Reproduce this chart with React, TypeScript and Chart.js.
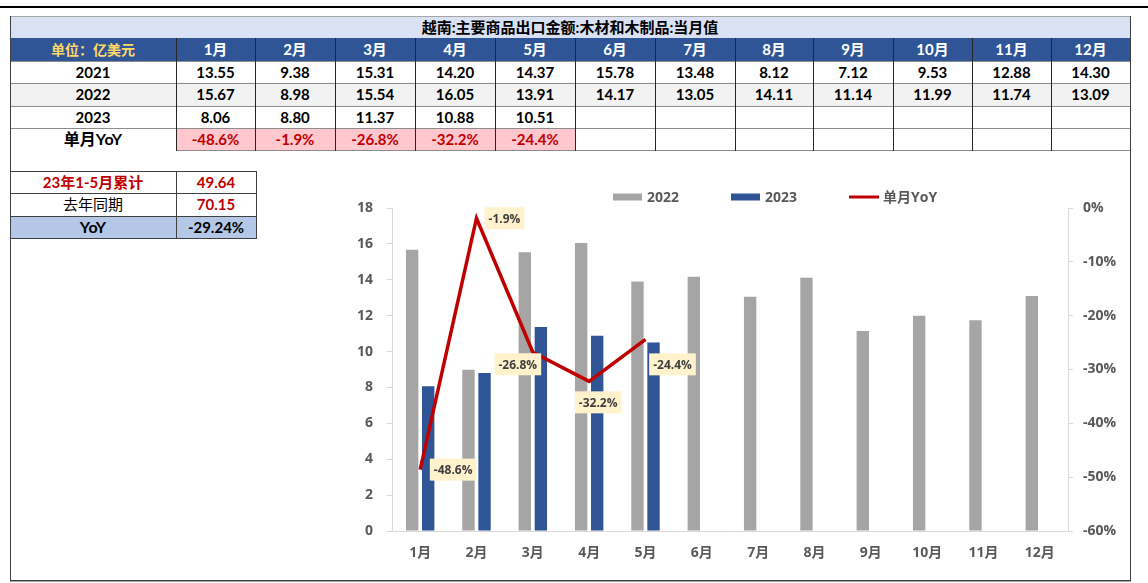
import React, { useEffect, useRef } from "react";
import { Chart, registerables } from "chart.js";

Chart.register(...registerables);

// ---------- data ----------
const title = "越南:主要商品出口金额:木材和木制品:当月值";
const unitLabel = "单位：亿美元";
const months = ["1月", "2月", "3月", "4月", "5月", "6月", "7月", "8月", "9月", "10月", "11月", "12月"];
const rowYears = ["2021", "2022", "2023"];
const v2021 = [13.55, 9.38, 15.31, 14.2, 14.37, 15.78, 13.48, 8.12, 7.12, 9.53, 12.88, 14.3];
const v2022 = [15.67, 8.98, 15.54, 16.05, 13.91, 14.17, 13.05, 14.11, 11.14, 11.99, 11.74, 13.09];
const v2023 = [8.06, 8.8, 11.37, 10.88, 10.51, null, null, null, null, null, null, null];
const yoyLabel = "单月YoY";
const yoy = [-48.6, -1.9, -26.8, -32.2, -24.4, null, null, null, null, null, null, null];
const summaryLabels = ["23年1-5月累计", "去年同期", "YoY"];
const summaryValues = ["49.64", "70.15", "-29.24%"];
const seriesNames = ["2022", "2023", "单月YoY"];
const leftAxis = { min: 0, max: 18, step: 2 };
const rightAxis = { min: -60, max: 0, step: 10 };

// ---------- layout / style ----------
const colEdges = [10, 176, 255, 335, 415, 495, 575, 655, 735, 813, 893, 972, 1051, 1130];
const rowEdges = [16, 38, 61, 83, 106, 128, 150];
const sumRows = [171, 193, 216, 238];
const sumCols = [10, 176, 256];
const labelOffsets = [
  [33, 0],
  [28, 0],
  [-15, 12],
  [9, 21],
  [27, 25],
];
const FONT_T = "Lato, 'Noto Sans CJK SC', sans-serif";
const FONT_C = "'Open Sans', 'Noto Sans CJK SC', sans-serif";
const GRAY = "#A5A5A5";
const BLUE = "#2F5597";
const RED = "#C00000";
const TXT = "#595959";

function Cell(props: { x0: number; x1: number; y0: number; y1: number; text?: string; style?: any }) {
  const { x0, x1, y0, y1, text, style } = props;
  return (
    <div
      style={{
        position: "absolute",
        left: x0,
        top: y0,
        width: x1 - x0,
        height: y1 - y0,
        display: "flex",
        alignItems: "center",
        justifyContent: "center",
        fontFamily: FONT_T,
        fontWeight: 700,
        fontSize: 15,
        color: "#000",
        lineHeight: 1,
        whiteSpace: "nowrap",
        ...(style || {}),
      }}
    >
      {text}
    </div>
  );
}

function HLine(props: { x0: number; x1: number; y: number; color: string; w?: number }) {
  return (
    <div
      style={{
        position: "absolute",
        left: props.x0,
        top: props.y,
        width: props.x1 - props.x0 + 1,
        height: props.w || 1,
        background: props.color,
      }}
    />
  );
}
function VLine(props: { x: number; y0: number; y1: number; color: string; w?: number }) {
  return (
    <div
      style={{
        position: "absolute",
        left: props.x,
        top: props.y0,
        width: props.w || 1,
        height: props.y1 - props.y0 + 1,
        background: props.color,
      }}
    />
  );
}

const fmt2 = (v: number | null) => (v == null ? "" : v.toFixed(2));

function ChartBox() {
  const ref = useRef<HTMLCanvasElement | null>(null);
  useEffect(() => {
    if (!ref.current) return;
    const legendPlugin = {
      id: "customLegend",
      afterDraw(chart: any) {
        const ctx = chart.ctx;
        const ca = chart.chartArea;
        ctx.save();
        ctx.font = `bold 14px ${FONT_C}`;
        ctx.textBaseline = "middle";
        ctx.textAlign = "left";
        let x = ca.left + 221;
        const y = 17;
        chart.data.datasets.forEach((ds: any) => {
          if (ds.type === "line") {
            ctx.strokeStyle = ds.borderColor;
            ctx.lineWidth = 3;
            ctx.beginPath();
            ctx.moveTo(x, y);
            ctx.lineTo(x + 30, y);
            ctx.stroke();
          } else {
            ctx.fillStyle = ds.backgroundColor;
            ctx.fillRect(x, y - 3.5, 29, 7);
          }
          x += 34;
          ctx.fillStyle = TXT;
          ctx.fillText(ds.label, x, y + 1);
          x += ctx.measureText(ds.label).width + 52;
        });
        ctx.restore();
      },
    };
    const labelPlugin = {
      id: "yoyLabels",
      afterDatasetsDraw(chart: any) {
        const ctx = chart.ctx;
        const idx = chart.data.datasets.findIndex((d: any) => d.type === "line");
        const meta = chart.getDatasetMeta(idx);
        const data = chart.data.datasets[idx].data;
        ctx.save();
        ctx.font = `bold 12px ${FONT_C}`;
        ctx.textAlign = "center";
        ctx.textBaseline = "middle";
        meta.data.forEach((pt: any, i: number) => {
          const v = data[i];
          if (v == null) return;
          const txt = v.toFixed(1) + "%";
          const off = labelOffsets[i] || [30, 0];
          const cx = pt.x + off[0];
          const cy = pt.y + off[1];
          const w = ctx.measureText(txt).width + 8;
          const h = 22;
          ctx.fillStyle = "#FFF2CC";
          ctx.fillRect(cx - w / 2, cy - h / 2, w, h);
          ctx.fillStyle = "#404040";
          ctx.fillText(txt, cx, cy + 1);
        });
        ctx.restore();
      },
    };
    const tickFont = { family: FONT_C, size: 14, weight: "bold" as const };
    const chart = new Chart(ref.current, {
      type: "bar",
      data: {
        labels: months,
        datasets: [
          {
            type: "bar",
            label: seriesNames[0],
            data: v2022,
            backgroundColor: GRAY,
            borderWidth: 0,
            categoryPercentage: 0.57,
            barPercentage: 0.77,
            yAxisID: "y",
            order: 1,
          } as any,
          {
            type: "bar",
            label: seriesNames[1],
            data: v2023,
            backgroundColor: BLUE,
            borderWidth: 0,
            categoryPercentage: 0.57,
            barPercentage: 0.77,
            yAxisID: "y",
            order: 1,
          } as any,
          {
            type: "line",
            label: seriesNames[2],
            data: yoy,
            borderColor: RED,
            backgroundColor: RED,
            borderWidth: 3.5,
            pointRadius: 0,
            tension: 0,
            yAxisID: "y2",
            order: 0,
            spanGaps: false,
          } as any,
        ],
      },
      options: {
        responsive: false,
        animation: false,
        devicePixelRatio: 1,
        layout: { padding: { top: 28, left: 0, right: 0, bottom: 0 } },
        plugins: { legend: { display: false }, tooltip: { enabled: false } },
        scales: {
          x: {
            grid: { display: false, drawTicks: false },
            border: { display: true, color: "#D9D9D9", width: 1 },
            ticks: { font: tickFont, color: TXT, padding: 14, maxRotation: 0 },
            afterFit: (s: any) => {
              s.height = 44;
            },
          },
          y: {
            position: "left",
            min: leftAxis.min,
            max: leftAxis.max,
            ticks: { stepSize: leftAxis.step, font: tickFont, color: TXT, padding: 14 },
            grid: { display: true, drawOnChartArea: false, drawTicks: true, tickLength: 5, color: "#D9D9D9" },
            border: { display: true, color: "#D9D9D9", width: 1 },
            afterFit: (s: any) => {
              s.width = 52;
            },
          },
          y2: {
            position: "right",
            min: rightAxis.min,
            max: rightAxis.max,
            ticks: {
              stepSize: rightAxis.step,
              font: tickFont,
              color: TXT,
              padding: 10,
              callback: (v: any) => `${v}%`,
            },
            grid: { display: true, drawOnChartArea: false, drawTicks: true, tickLength: 5, color: "#D9D9D9" },
            border: { display: true, color: "#D9D9D9", width: 1 },
            afterFit: (s: any) => {
              s.width = 60;
            },
          },
        },
      },
      plugins: [legendPlugin, labelPlugin],
    } as any);
    return () => chart.destroy();
  }, []);
  return (
    <canvas
      ref={ref}
      width={788}
      height={395}
      style={{ position: "absolute", left: 340, top: 180, width: 788, height: 395 }}
    />
  );
}

export default function App() {
  const cells: any[] = [];
  const lines: any[] = [];
  const L = colEdges[0];
  const R = colEdges[colEdges.length - 1];

  // title row
  cells.push(
    <Cell key="title" x0={L} x1={R} y0={rowEdges[0]} y1={rowEdges[1]} text={title} style={{ background: "#D9E1F2", fontSize: 15 }} />
  );
  // header row
  cells.push(
    <Cell key="unit" x0={colEdges[0]} x1={colEdges[1]} y0={rowEdges[1]} y1={rowEdges[2]} text={unitLabel} style={{ background: BLUE, color: "#FFD966", fontSize: 14 }} />
  );
  months.forEach((m, i) => {
    cells.push(
      <Cell key={"h" + i} x0={colEdges[i + 1]} x1={colEdges[i + 2]} y0={rowEdges[1]} y1={rowEdges[2]} text={m} style={{ background: BLUE, color: "#fff" }} />
    );
  });
  // data rows
  const rows = [v2021, v2022, v2023];
  rows.forEach((vals, r) => {
    const bg = r === 1 ? "#F2F2F2" : "#fff";
    cells.push(
      <Cell key={"y" + r} x0={colEdges[0]} x1={colEdges[1]} y0={rowEdges[2 + r]} y1={rowEdges[3 + r]} text={rowYears[r]} style={{ background: bg }} />
    );
    vals.forEach((v, i) => {
      cells.push(
        <Cell key={"d" + r + "-" + i} x0={colEdges[i + 1]} x1={colEdges[i + 2]} y0={rowEdges[2 + r]} y1={rowEdges[3 + r]} text={fmt2(v)} style={{ background: bg }} />
      );
    });
  });
  // yoy row
  cells.push(
    <Cell key="yl" x0={colEdges[0]} x1={colEdges[1]} y0={rowEdges[5]} y1={rowEdges[6]} text={yoyLabel} style={{ fontSize: 16 }} />
  );
  yoy.forEach((v, i) => {
    cells.push(
      <Cell
        key={"yy" + i}
        x0={colEdges[i + 1]}
        x1={colEdges[i + 2]}
        y0={rowEdges[5]}
        y1={rowEdges[6]}
        text={v == null ? "" : v.toFixed(1) + "%"}
        style={v == null ? {} : { background: "#FFC7CE", color: RED }}
      />
    );
  });

  // summary table
  summaryLabels.forEach((lab, r) => {
    const last = r === summaryLabels.length - 1;
    const bg = last ? "#B4C7E7" : "#fff";
    const labStyle: any = { background: bg };
    if (r === 0) labStyle.color = RED;
    if (r === 1) labStyle.fontWeight = 400;
    if (last) labStyle.fontSize = 16;
    cells.push(
      <Cell key={"sl" + r} x0={sumCols[0]} x1={sumCols[1]} y0={sumRows[r]} y1={sumRows[r + 1]} text={lab} style={labStyle} />
    );
    cells.push(
      <Cell key={"sv" + r} x0={sumCols[1]} x1={sumCols[2]} y0={sumRows[r]} y1={sumRows[r + 1]} text={summaryValues[r]} style={{ background: bg, color: last ? "#000" : RED }} />
    );
  });

  // lines main table
  lines.push(<HLine key="tt" x0={L} x1={R} y={rowEdges[0]} color="#A6A6A6" />);
  for (let r = 2; r <= 6; r++) {
    lines.push(<HLine key={"hr" + r} x0={r === 6 ? colEdges[1] : L} x1={R} y={rowEdges[r]} color="#8C8C8C" />);
  }
  for (let c = 1; c < colEdges.length - 1; c++) {
    lines.push(<VLine key={"vc" + c} x={colEdges[c]} y0={rowEdges[1]} y1={rowEdges[6]} color="#262626" />);
  }
  // summary lines
  sumRows.forEach((y, i) => lines.push(<HLine key={"sh" + i} x0={sumCols[0]} x1={sumCols[2]} y={y} color="#404040" />));
  sumCols.slice(1).forEach((x, i) => lines.push(<VLine key={"sv" + i} x={x} y0={sumRows[0]} y1={sumRows[3]} color="#404040" />));
  // frame
  lines.push(<VLine key="fl" x={L} y0={rowEdges[0]} y1={581} color="#404040" />);
  lines.push(<VLine key="fr" x={R} y0={rowEdges[0]} y1={581} color="#404040" />);
  lines.push(<HLine key="fb" x0={L} x1={R} y={580} color="#404040" />);
  lines.push(<HLine key="fb2" x0={L} x1={R} y={581} color="#A0A0A0" />);
  // top black rule
  lines.push(<HLine key="top" x0={0} x1={1147} y={6} color="#000" w={2} />);

  return (
    <div style={{ position: "absolute", left: 0, top: 0, width: 1148, height: 583, background: "#fff", overflow: "hidden" }}>
      {cells}
      <ChartBox />
      {lines}
    </div>
  );
}
